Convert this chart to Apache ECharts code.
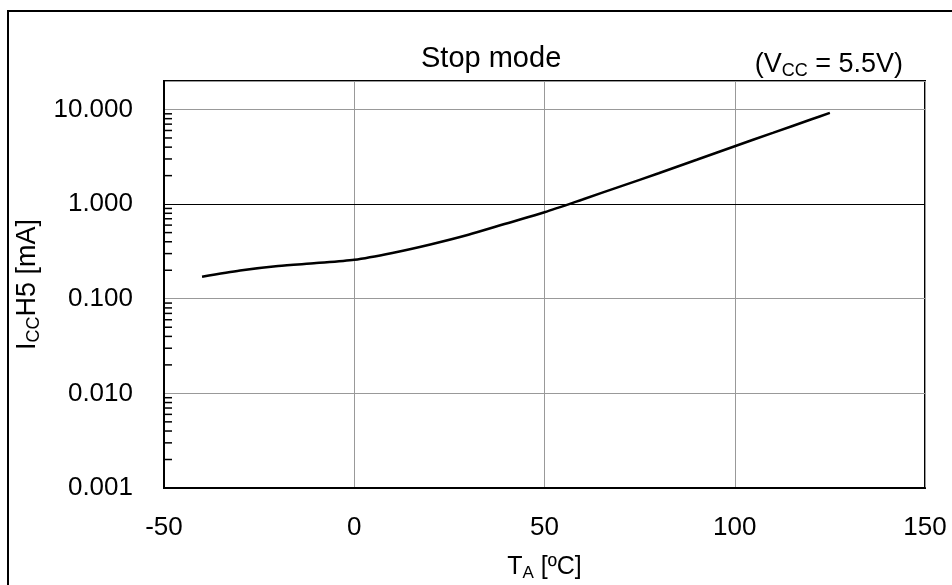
<!DOCTYPE html>
<html>
<head>
<meta charset="utf-8">
<script src="https://cdn.jsdelivr.net/npm/echarts@6/dist/echarts.min.js"></script>
<style>
  html, body { margin: 0; padding: 0; background: #fff; }
  #chart { width: 952px; height: 585px; }
</style>
</head>
<body>
<div id="chart"></div>
<script>
// temperature [ºC] and supply current [mA]
const tempData = [-40, -30, -20, -10, 0, 10, 20, 30, 40, 50, 60, 70, 80, 90, 100, 110, 120, 125];
const iccData = [0.171, 0.199, 0.222, 0.238, 0.258, 0.305, 0.375, 0.475, 0.625, 0.82, 1.12, 1.54, 2.12, 2.94, 4.09, 5.66, 7.83, 9.2];
const xTicks = [-50, 0, 50, 100, 150];
const yMin = 0.001;
const yMax = 20;

// log minor ticks (2..9 per decade)
const minorTicks = [];
for (let e = -3; e <= 1; e++) {
  for (let m = 2; m <= 9; m++) {
    const v = m * Math.pow(10, e);
    if (v < yMax) minorTicks.push(+v.toPrecision(3));
  }
}

const font = "Liberation Sans";
const chart = echarts.init(document.getElementById("chart"));

const option = {
  backgroundColor: "#fff",
  animation: false,
  textStyle: { fontFamily: font },
  title: [
    {
      text: "Stop mode",
      left: 416,
      top: 39,
      textStyle: { fontFamily: font, fontSize: 29, fontWeight: "normal", color: "#000" }
    },
    {
      text: "(V{sub|CC} = 5.5V)",
      right: 44,
      top: 45,
      textStyle: {
        fontFamily: font, fontSize: 27, fontWeight: "normal", color: "#000",
        rich: { sub: { fontFamily: font, fontSize: 18, verticalAlign: "bottom", padding: [12, 0, 0, 0] } }
      }
    }
  ],
  graphic: [
    {
      type: "rect",
      shape: { x: 8, y: 11, width: 980, height: 620 },
      style: { fill: "none", stroke: "#000", lineWidth: 2 },
      silent: true
    }
  ],
  grid: {
    left: 164, right: 27, top: 81, bottom: 97,
    outerBoundsMode: "none",
    show: true, borderColor: "#000", borderWidth: 2
  },
  xAxis: {
    type: "value",
    min: xTicks[0],
    max: xTicks[xTicks.length - 1],
    interval: 50,
    name: "T{sub|A} [ºC]",
    nameLocation: "middle",
    nameGap: 65,
    nameTextStyle: {
      fontFamily: font, fontSize: 25, color: "#000",
      rich: { sub: { fontFamily: font, fontSize: 17, verticalAlign: "bottom", padding: [12, 0, 0, 0] } }
    },
    axisLine: { show: true, onZero: false, lineStyle: { color: "#000", width: 2 } },
    axisTick: { show: false },
    axisLabel: { fontFamily: font, fontSize: 26, color: "#000", margin: 27 },
    splitLine: { show: true, lineStyle: { color: "#999", width: 1 } }
  },
  yAxis: {
    type: "log",
    logBase: 10,
    min: yMin,
    max: yMax,
    name: "I{sub|CC}H5 [mA]",
    nameLocation: "middle",
    nameGap: 120,
    nameRotate: 90,
    nameTextStyle: {
      fontFamily: font, fontSize: 27, color: "#000",
      rich: { sub: { fontFamily: font, fontSize: 18, verticalAlign: "bottom", padding: [12, 0, 0, 0] } }
    },
    axisLine: { show: true, onZero: false, lineStyle: { color: "#000", width: 2 } },
    axisTick: { show: false },
    axisLabel: {
      fontFamily: font, fontSize: 26, color: "#000", margin: 31,
      showMaxLabel: false,
      formatter: v => (v > yMax * 0.99 ? "" : Number(v).toFixed(3))
    },
    splitLine: { show: true, lineStyle: { color: "#999", width: 1 } }
  },
  series: [
    {
      name: "minor ticks",
      type: "custom",
      silent: true,
      data: minorTicks.map(v => [xTicks[0], v]),
      renderItem: (params, api) => {
        const p = api.coord([api.value(0), api.value(1)]);
        return {
          type: "line",
          shape: { x1: p[0], y1: p[1], x2: p[0] + 8, y2: p[1] },
          style: { stroke: "#000", lineWidth: 1.5 }
        };
      },
      z: 3
    },
    {
      name: "ICCH5",
      type: "line",
      smooth: 0.25,
      symbol: "none",
      data: tempData.map((t, i) => [t, iccData[i]]),
      lineStyle: { color: "#000", width: 2.5 },
      markLine: {
        silent: true,
        symbol: "none",
        label: { show: false },
        lineStyle: { color: "#000", width: 1, type: "solid" },
        data: [{ yAxis: 1 }]
      },
      z: 4
    }
  ]
};

chart.setOption(option);
</script>
</body>
</html>
